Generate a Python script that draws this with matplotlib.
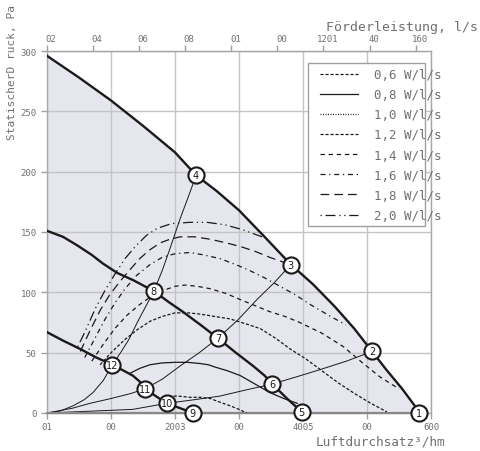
import matplotlib
matplotlib.use('Agg')
import matplotlib.pyplot as plt
from matplotlib.patches import Rectangle
from matplotlib.lines import Line2D
import matplotlib.transforms as mtransforms

plt.rcParams['font.family'] = ['DejaVu Sans Mono']

# ---- fan curves (m3/h, Pa) ----
max_x = [0, 50, 100, 150, 200, 233, 265, 300, 340, 381, 415, 450, 480, 508, 530, 555, 583]
max_y = [296, 278, 259, 238, 216, 197, 184, 168, 146, 123, 107, 88, 70, 51, 36, 20, 0]
mid_x = [0, 25, 47, 70, 87, 110, 135, 167, 190, 212, 240, 267, 295, 322, 340, 352, 375, 400]
mid_y = [151, 146, 139, 131, 124, 116, 110, 101, 92, 84, 73, 62, 50, 39, 31, 24, 12, 0]
low_x = [0, 25, 52, 77, 102, 120, 134, 145, 153, 170, 187, 208, 228]
low_y = [67, 60, 53, 46, 40, 35, 31, 26, 20, 14, 8, 4, 0]

# ---- system curves ----
sys1_x = [0, 20, 41, 58, 72, 88, 102, 115, 128, 141, 154, 167, 180, 192, 208, 220, 233]
sys1_y = [0, 1.5, 6, 11, 17, 27, 40, 50, 61, 75, 88, 101, 118, 136, 161, 178, 197]
sys2_x = [0, 40, 67, 100, 130, 153, 180, 208, 238, 267, 298, 328, 355, 381]
sys2_y = [0, 4, 8, 12, 16, 20, 28, 39, 50, 62, 77, 94, 108, 123]
sys3_x = [0, 67, 134, 187, 230, 270, 310, 352, 390, 427, 468, 508]
sys3_y = [0, 1.5, 3, 8, 11, 14, 19, 24, 30, 36, 43, 51]
sys4_x = [0, 228, 400, 583]
sys4_y = [0, 0, 0, 0]

# ---- SFP curves ----
sfp_labels = ['0,6 W/l/s', '0,8 W/l/s', '1,0 W/l/s', '1,2 W/l/s',
              '1,4 W/l/s', '1,6 W/l/s', '1,8 W/l/s', '2,0 W/l/s']
sfp06_x = [190, 205, 223, 240, 255, 270, 286, 300, 312]
sfp06_y = [14, 14, 13, 13, 12, 9, 6, 3, 0]
sfp08_x = [130, 145, 161, 180, 200, 220, 239, 252, 263, 282, 302, 325, 348, 370, 391]
sfp08_y = [33, 37, 40, 41.5, 42, 42, 41, 40, 38, 35, 31, 24, 17, 12, 8]
sfp10_x = []
sfp10_y = []
sfp12_x = [83, 102, 122, 141, 161, 180, 200, 220, 239, 262, 286, 310, 333, 357, 380,
           404, 427, 455, 481, 506, 531]
sfp12_y = [40, 51, 61, 69, 76, 80, 83, 83, 82, 80, 78, 74, 70, 62, 53, 45, 36, 25, 16, 8, 1]
sfp14_x = [70, 88, 106, 125, 145, 164, 184, 200, 216, 235, 255, 280, 302, 325, 348,
           372, 395, 430, 463, 492, 520, 550]
sfp14_y = [43, 57, 70, 81, 90, 97, 102, 105, 106, 105, 103, 99, 94, 89, 84, 80, 75,
           66, 55, 42, 30, 20]
sfp16_x = [59, 75, 91, 106, 122, 140, 161, 180, 200, 223, 245, 270, 295, 317, 340,
           364, 388, 411, 440, 467]
sfp16_y = [46, 62, 78, 91, 103, 114, 123, 129, 132, 133, 131, 128, 123, 118, 112,
           105, 98, 90, 81, 73]
sfp18_x = [52, 67, 83, 98, 114, 130, 145, 160, 177, 192, 208, 230, 255, 280, 302,
           325, 348, 380]
sfp18_y = [51, 68, 85, 98, 109, 119, 128, 135, 141, 144, 146, 146, 144, 141, 138,
           134, 129, 123]
sfp20_x = [48, 60, 75, 90, 106, 122, 138, 155, 172, 195, 223, 250, 278, 305, 336]
sfp20_y = [55, 68, 86, 101, 115, 128, 138, 147, 153, 157, 158, 158, 156, 152, 146]

# ---- numbered operating points ----
pt_id = ['1', '2', '3', '4', '5', '6', '7', '8', '9', '10', '11', '12']
pt_x = [581, 508, 381, 233, 398, 352, 267, 167, 228, 187, 153, 102]
pt_y = [0, 51, 123, 197, 1, 24, 62, 101, 0, 8, 20, 40]

# ---- axes ticks ----
xticks = [0, 100, 200, 300, 400, 500, 600]
xticklabels = ['01', '00', '2003', '00', '4005', '00', '600']
yticks = [0, 50, 100, 150, 200, 250, 300]
yticklabels = ['0', '50', '100', '150', '200', '250', '300']
top_ticks = [0, 20, 40, 60, 80, 100, 120, 140, 160]
top_ticklabels = ['02', '04', '06', '08', '01', '00', '1201', '40', '160']

W, H = 480, 452
fig = plt.figure(figsize=(W / 100, H / 100), dpi=100)
ax = fig.add_axes([47 / W, 1 - 414 / H, 384 / W, 362 / H])
ax.set_xlim(0, 600)
ax.set_ylim(0, 300)

gray_txt = '#707070'
ink = '#1a1a1a'

ax.fill_between(max_x, 0, max_y, color='#e5e6ee', lw=0, zorder=1)
ax.grid(True, color='#c4c4c4', lw=1.0)

for xs, ys in [(max_x, max_y), (mid_x, mid_y), (low_x, low_y)]:
    ax.plot(xs, ys, color=ink, lw=1.7, zorder=3, solid_joinstyle='round')
for xs, ys in [(sys1_x, sys1_y), (sys2_x, sys2_y), (sys3_x, sys3_y)]:
    ax.plot(xs, ys, color=ink, lw=0.7, zorder=3)
ax.plot(sys4_x, sys4_y, color='#888888', lw=1.6, zorder=3, clip_on=False)

styles = [(0, (2.5, 1.5)), '-', (0, (0.8, 1.2)), (0, (2.5, 1.5)),
          (0, (3.5, 3)), (0, (4, 3, 1, 3)), (0, (7, 4)), (0, (1, 3, 8, 3, 1, 3))]
sfp_x = [sfp06_x, sfp08_x, sfp10_x, sfp12_x, sfp14_x, sfp16_x, sfp18_x, sfp20_x]
sfp_y = [sfp06_y, sfp08_y, sfp10_y, sfp12_y, sfp14_y, sfp16_y, sfp18_y, sfp20_y]
handles = []
for xs, ys, ls in zip(sfp_x, sfp_y, styles):
    ax.plot(xs, ys, color=ink, lw=0.9, ls=ls, zorder=3)
    handles.append(Line2D([], [], color=ink, lw=0.9, ls=ls))

ax.scatter(pt_x, pt_y, s=135, facecolor='white', edgecolor=ink, linewidths=1.5,
           zorder=6, clip_on=False)
for t, x, y in zip(pt_id, pt_x, pt_y):
    ax.text(x, y, t, ha='center', va='center', fontsize=7, family='DejaVu Sans',
            color=ink, zorder=7, clip_on=False)

# legend
ax.add_patch(Rectangle(((308 - 47) / 384, (414 - 227) / 362), 117 / 384, 163 / 362,
                       transform=ax.transAxes, facecolor='white', edgecolor='#a0a0a0',
                       lw=1.0, zorder=4))
leg = ax.legend(handles, sfp_labels, loc='upper left',
                bbox_to_anchor=((320 - 47) / 384, (414 - 69) / 362),
                frameon=False, fontsize=9, handlelength=3.0, handletextpad=1.3,
                labelspacing=0.57, borderpad=0, borderaxespad=0)
leg.set_zorder(5)
for t in leg.get_texts():
    t.set_color(gray_txt)

# spines & ticks
for s in ax.spines.values():
    s.set_color('#a8a8a8')
    s.set_linewidth(1.0)
ax.set_xticks(xticks)
ax.set_xticklabels(xticklabels)
ax.set_yticks(yticks)
ax.set_yticklabels(yticklabels)
ax.tick_params(axis='both', colors='#a0a0a0', labelcolor=gray_txt, labelsize=6.5,
               length=4, width=1)
ax.tick_params(axis='x', pad=2.5)

sec = ax.secondary_xaxis('top', functions=(lambda v: v / 3.6, lambda v: v * 3.6))
sec.set_xticks(top_ticks)
sec.set_xticklabels(top_ticklabels)
sec.tick_params(colors='#a0a0a0', labelcolor=gray_txt, labelsize=6.5, length=4, width=1, pad=1.5)
sec.spines['top'].set_color('#a8a8a8')
off = mtransforms.ScaledTranslation(4 / 100, 0, fig.dpi_scale_trans)
for lab in sec.get_xticklabels():
    lab.set_transform(lab.get_transform() + off)

fig.text(478 / W, 1 - 27 / H, 'Förderleistung, l/s', ha='right', va='center',
         fontsize=9.5, color=gray_txt)
fig.text(445 / W, 1 - 442 / H, 'Luftdurchsatz³/hm', ha='right', va='center',
         fontsize=9.2, color=gray_txt)
fig.text(12 / W, 1 - 5 / H, 'StatischerD ruck, Pa', ha='center', va='top',
         rotation=90, fontsize=8, color=gray_txt)

fig.savefig('out.png', dpi=100)
